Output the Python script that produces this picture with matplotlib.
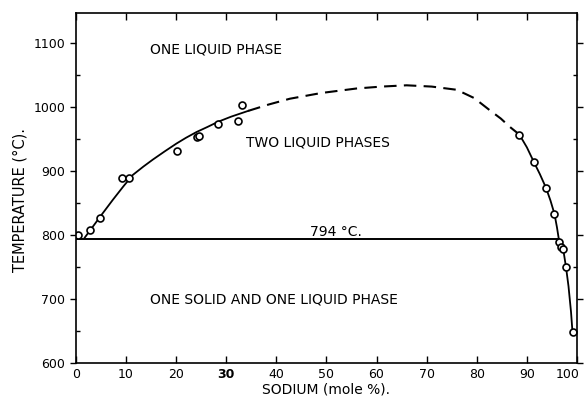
import numpy as np
import matplotlib.pyplot as plt
from matplotlib.ticker import MultipleLocator
from matplotlib.transforms import ScaledTranslation

# measured points (sodium mole %, temperature C)
pts_x = [0.5, 2.8, 4.8, 9.3, 10.6, 20.2, 24.1, 24.6, 28.4, 32.3, 33.1,
         88.5, 91.4, 93.8, 95.5, 96.4, 96.9, 97.3, 97.8, 99.1]
pts_y = [800, 808, 827, 889, 889, 931, 953, 954, 973, 978, 1003,
         957, 914, 874, 833, 789, 782, 778, 750, 648]

# curve
left_x = [1.8, 3.5, 5.0, 7.4, 9.5, 11.4, 13.5, 15.4, 17.8, 20.1, 22.0, 24.1, 26.3, 28.4, 31.0, 34.4]
left_y = [796, 814, 830, 855, 876, 894, 907, 918, 931, 943, 952, 961, 969, 977, 985, 994]

dash_x = [34.4, 38.5, 42.7, 49.0, 56.0, 61.0, 66.0, 71.0, 76.0, 79.5, 82.6, 84.8, 86.6, 88.5]
dash_y = [994, 1004, 1013, 1022, 1029, 1032, 1034, 1032, 1027, 1014, 995, 982, 969, 957]

right_x = [88.5, 90.0, 91.4, 92.6, 93.8, 94.7, 95.5, 96.0, 96.4, 96.9, 97.3, 97.8, 98.3, 98.8, 99.1]
right_y = [957, 937, 914, 895, 874, 854, 833, 812, 792, 782, 775, 750, 720, 680, 648]

eutectic = 794

xticks = [0, 10, 20, 30, 40, 50, 60, 70, 80, 90, 100]
yticks = [600, 700, 800, 900, 1000, 1100]

fig = plt.figure(figsize=(5.87, 4.0), dpi=100)
ax = fig.add_axes([0.129, 0.0925, 0.854, 0.875])

ax.plot(left_x, left_y, color="black", lw=1.3)
ax.plot(dash_x, dash_y, color="black", lw=1.5, ls=(0, (6, 3.5)))
ax.plot(right_x, right_y, color="black", lw=1.3)
ax.plot([0, 96.4], [eutectic, eutectic], color="black", lw=1.4)
ax.plot(pts_x, pts_y, "o", mfc="white", mec="black", ms=5, mew=1.2)

ax.set_xlim(0, 100)
ax.set_ylim(600, 1147)
ax.set_xticks(xticks)
ax.set_yticks(yticks)
ax.yaxis.set_minor_locator(MultipleLocator(50))
ax.tick_params(which="both", direction="in", top=True, right=True,
               length=5, width=1, labelsize=9)
ax.tick_params(axis="y", which="major", direction="out", length=4)
ax.tick_params(axis="y", which="minor", direction="in", length=3)
for lab in ax.get_xticklabels():
    if lab.get_text() == "30":
        lab.set_fontweight("bold")
    if lab.get_text() == "100":
        lab.set_transform(lab.get_transform() + ScaledTranslation(-7 / 72, 0, fig.dpi_scale_trans))
for s in ax.spines.values():
    s.set_linewidth(1.2)

ax.text(14.8, 1090, "ONE LIQUID PHASE", fontsize=10, va="center")
ax.text(34.0, 945, "TWO LIQUID PHASES", fontsize=10, va="center")
ax.text(46.7, 805, "794 °C.", fontsize=10, va="center")
ax.text(14.8, 700, "ONE SOLID AND ONE LIQUID PHASE", fontsize=10, va="center")

ax.set_xlabel("SODIUM (mole %).", fontsize=10, labelpad=1)
ax.set_ylabel("TEMPERATURE (°C).", fontsize=10.5)
ax.yaxis.set_label_coords(-0.097, 0.466)

fig.savefig("out.png", dpi=100)
